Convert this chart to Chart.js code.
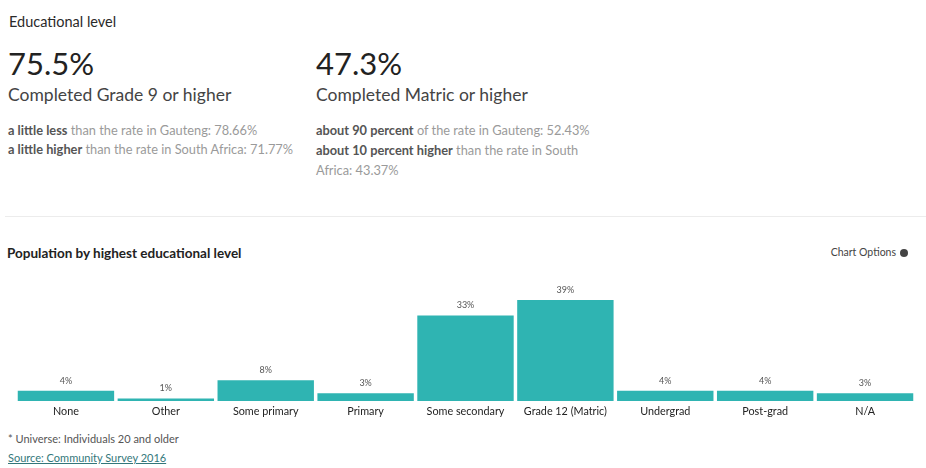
<!DOCTYPE html>
<html>
<head>
<meta charset="utf-8">
<script src="https://cdn.jsdelivr.net/npm/chart.js@4"></script>
<style>
  html, body { margin: 0; padding: 0; background: #fff; }
  body { width: 926px; height: 468px; position: relative; overflow: hidden; font-family: Lato, "Open Sans", sans-serif; color: #333; }
  .abs { position: absolute; white-space: nowrap; }
  .title { left: 9px; top: 13px; font-size: 14.5px; color: #2a2a2a; line-height: 1.2; }
  .big { font-size: 31px; color: #222; line-height: 1; }
  .sub { font-size: 17.5px; color: #444; line-height: 1.2; }
  .note { font-size: 12.8px; color: #9a9a9a; line-height: 20px; }
  .note b { color: #555; font-weight: 700; }
  .divider { left: 5px; top: 216px; width: 921px; height: 1px; background: #ececec; }
  .ctitle { left: 7px; top: 245px; font-size: 13.5px; color: #222; font-weight: 700; line-height: 1.2; }
  .opts { right: 18px; top: 246px; font-size: 10.5px; color: #444; line-height: 1.2; }
  .opts span.ic { display: inline-block; width: 8px; height: 8px; border-radius: 50%; background: #444; margin-left: 4px; vertical-align: -1px; }
  .foot { left: 8px; font-size: 11px; color: #555; line-height: 1.2; }
  .src { color: #33777a; text-decoration: underline; }
  #wrap { position: absolute; left: 0; top: 270px; width: 926px; height: 155px; }
</style>
</head>
<body>
<div class="abs title">Educational level</div>

<div class="abs big" style="left:8px; top:48px;">75.5%</div>
<div class="abs sub" style="left:8px; top:84px;">Completed Grade 9 or higher</div>
<div class="abs note" style="left:8px; top:120px;"><b>a little less</b> than the rate in Gauteng: 78.66%</div>
<div class="abs note" style="left:8px; top:139px;"><b>a little higher</b> than the rate in South Africa: 71.77%</div>

<div class="abs big" style="left:316px; top:48px;">47.3%</div>
<div class="abs sub" style="left:316px; top:84px;">Completed Matric or higher</div>
<div class="abs note" style="left:316px; top:120px;"><b>about 90 percent</b> of the rate in Gauteng: 52.43%</div>
<div class="abs note" style="left:316px; top:140px;"><b>about 10 percent higher</b> than the rate in South<br>Africa: 43.37%</div>

<div class="abs divider"></div>

<div class="abs ctitle">Population by highest educational level</div>
<div class="abs opts">Chart Options<span class="ic"></span></div>

<div id="wrap"><canvas id="chart"></canvas></div>

<div class="abs foot" style="top:432px;">* Universe: Individuals 20 and older</div>
<div class="abs foot src" style="top:451px;">Source: Community Survey 2016</div>

<script>
// Highest level of education, share of people aged 20+
const categories = ["None", "Other", "Some primary", "Primary", "Some secondary", "Grade 12 (Matric)", "Undergrad", "Post-grad", "N/A"];
const shares = [4, 1, 8, 3, 33, 39, 4, 4, 3];

// Prints each bar's share just above its top edge
const valueLabels = {
  id: "valueLabels",
  afterDatasetsDraw(chart) {
    const ctx = chart.ctx;
    const meta = chart.getDatasetMeta(0);
    ctx.save();
    ctx.font = "9px Lato, sans-serif";
    ctx.fillStyle = "#555";
    ctx.textAlign = "center";
    ctx.textBaseline = "middle";
    meta.data.forEach((bar, i) => {
      ctx.fillText(shares[i] + "%", bar.x, bar.y - 10);
    });
    ctx.restore();
  }
};

new Chart(document.getElementById("chart"), {
  type: "bar",
  data: {
    labels: categories,
    datasets: [{
      data: shares,
      backgroundColor: "#2fb4b2",
      borderWidth: 0,
      categoryPercentage: 0.965,
      barPercentage: 1
    }]
  },
  options: {
    responsive: true,
    maintainAspectRatio: false,
    animation: false,
    layout: { padding: { left: 16, right: 11, top: 30, bottom: 3 } },
    plugins: { legend: { display: false }, tooltip: { enabled: false } },
    scales: {
      x: {
        grid: { display: false, drawTicks: false },
        border: { display: false },
        ticks: { padding: 4, color: "#222", font: { family: "Lato", size: 10.8 }, maxRotation: 0, autoSkip: false }
      },
      y: { display: false, min: 0, max: 39 }
    }
  },
  plugins: [valueLabels]
});
</script>
</body>
</html>
